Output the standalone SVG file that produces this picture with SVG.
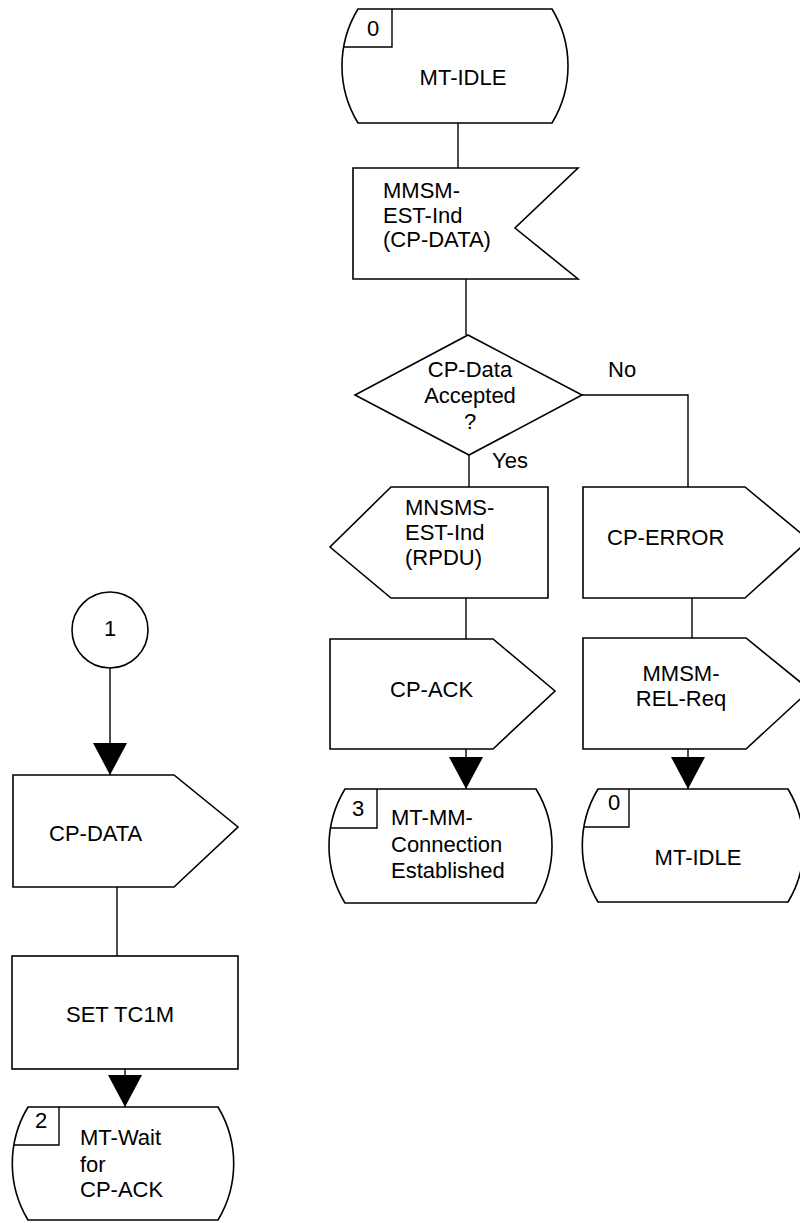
<svg xmlns="http://www.w3.org/2000/svg" width="800" height="1223" viewBox="0 0 800 1223">
<style>
.shape{fill:#ffffff;stroke:#000000;stroke-width:1.6;stroke-linejoin:miter}
.inner{fill:none;stroke:#000000;stroke-width:1.4}
.conn{fill:none;stroke:#000000;stroke-width:1.4}
text{font-family:"Liberation Sans",Arial,sans-serif;font-size:22px;fill:#000000}
.mid{text-anchor:middle}
</style>
<defs>
<marker id="arrow" markerUnits="userSpaceOnUse" markerWidth="32" markerHeight="34" viewBox="0 0 32 34" refX="32" refY="17" orient="auto">
<path d="M0,0 L32,17 L0,34 Z" fill="#000000"/>
</marker>
</defs>
<rect width="800" height="1223" fill="#ffffff"/>
<g id="connectors">
<path class="conn" d="M458,123 V168"/>
<path class="conn" d="M466,279 V335"/>
<path class="conn" d="M582,395 H688 V487"/>
<path class="conn" d="M469,455 V487"/>
<path class="conn" d="M466,598 V639"/>
<path class="conn" d="M692,598 V638"/>
<path class="conn" d="M466,749 V789" marker-end="url(#arrow)"/>
<path class="conn" d="M688,749 V789" marker-end="url(#arrow)"/>
<path class="conn" d="M110,668 V775" marker-end="url(#arrow)"/>
<path class="conn" d="M117,887 V956"/>
<path class="conn" d="M125,1069 V1107" marker-end="url(#arrow)"/>
</g>
<g id="state-mt-idle-top">
<path class="shape" d="M358,9 L552,9 A109.5,109.5 0 0 1 552,123 L358,123 A109.5,109.5 0 0 1 358,9 Z"/>
<path class="inner" d="M392,9 V47 H344"/>
<text x="367" y="36">0</text>
<text class="mid" x="463" y="85">MT-IDLE</text>
</g>
<g id="input-mmsm-est-ind">
<polygon class="shape" points="353,168 578,168 515,228 578,279 353,279"/>
<text x="383" y="198">MMSM-</text>
<text x="383" y="223">EST-Ind</text>
<text x="383" y="247">(CP-DATA)</text>
</g>
<g id="decision-cp-data-accepted">
<polygon class="shape" points="468,335 582,395 469,455 355,395"/>
<text class="mid" x="470" y="377">CP-Data</text>
<text class="mid" x="470" y="403">Accepted</text>
<text class="mid" x="470" y="429">?</text>
</g>
<g id="label-no"><text x="608" y="377">No</text></g>
<g id="label-yes"><text x="492" y="468">Yes</text></g>
<g id="output-mnsms-est-ind">
<polygon class="shape" points="391,487 548,487 548,598 391,598 330,547"/>
<text x="405" y="515">MNSMS-</text>
<text x="405" y="540">EST-Ind</text>
<text x="405" y="565">(RPDU)</text>
</g>
<g id="output-cp-error">
<polygon class="shape" points="583,487 745,487 809,540 745,598 583,598"/>
<text x="607" y="545">CP-ERROR</text>
</g>
<g id="output-cp-ack">
<polygon class="shape" points="330,639 493,639 555,691 493,749 330,749"/>
<text x="390" y="697">CP-ACK</text>
</g>
<g id="output-mmsm-rel-req">
<polygon class="shape" points="583,638 746,638 810,690 746,749 583,749"/>
<text class="mid" x="681" y="681">MMSM-</text>
<text class="mid" x="681" y="706">REL-Req</text>
</g>
<g id="state-mt-mm-connection-established">
<path class="shape" d="M345,789 L536,789 A109.5,109.5 0 0 1 536,903 L345,903 A109.5,109.5 0 0 1 345,789 Z"/>
<path class="inner" d="M377,789 V828 H331"/>
<text x="352" y="816">3</text>
<text x="391" y="825">MT-MM-</text>
<text x="391" y="852">Connection</text>
<text x="391" y="878">Established</text>
</g>
<g id="state-mt-idle-right">
<path class="shape" d="M598,789 L788,789 A109.5,109.5 0 0 1 788,902 L598,902 A109.5,109.5 0 0 1 598,789 Z"/>
<path class="inner" d="M629,789 V827 H584"/>
<text x="608" y="810">0</text>
<text class="mid" x="698" y="865">MT-IDLE</text>
</g>
<g id="connector-1">
<circle class="shape" cx="110" cy="630" r="38"/>
<text class="mid" x="110" y="636">1</text>
</g>
<g id="output-cp-data">
<polygon class="shape" points="13,775 174,775 238,827 174,887 13,887"/>
<text x="49" y="841">CP-DATA</text>
</g>
<g id="task-set-tc1m">
<rect class="shape" x="12" y="956" width="226" height="113"/>
<text class="mid" x="120" y="1022">SET TC1M</text>
</g>
<g id="state-mt-wait-for-cp-ack">
<path class="shape" d="M28,1107 L218,1107 A109.5,109.5 0 0 1 218,1220 L28,1220 A109.5,109.5 0 0 1 28,1107 Z"/>
<path class="inner" d="M59,1107 V1145 H14"/>
<text x="35" y="1128">2</text>
<text x="80" y="1145">MT-Wait</text>
<text x="80" y="1172">for</text>
<text x="80" y="1197">CP-ACK</text>
</g>
</svg>
